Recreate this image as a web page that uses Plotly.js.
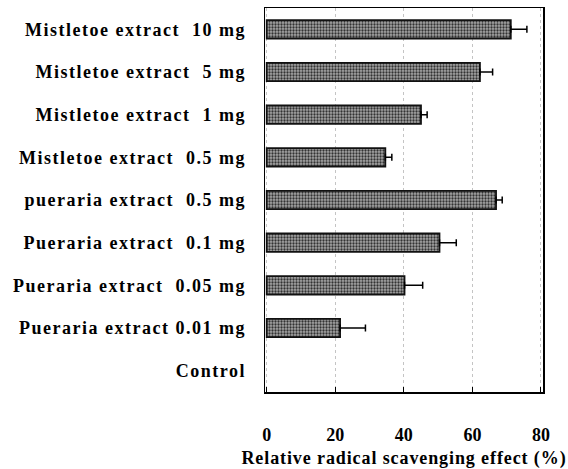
<!DOCTYPE html>
<html>
<head>
<meta charset="utf-8">
<script src="https://cdn.plot.ly/plotly-3.0.1.min.js"></script>
<style>
html,body{margin:0;padding:0;background:#fff;}
#chart{width:568px;height:469px;}
.yaxislayer-above text{letter-spacing:1.5px;}
.g-xtitle text{letter-spacing:0.9px;}
</style>
</head>
<body>
<div id="chart"></div>
<script>
const categories = [
  "Mistletoe extract\u00a0 10 mg",
  "Mistletoe extract\u00a0 5 mg",
  "Mistletoe extract\u00a0 1 mg",
  "Mistletoe extract\u00a0 0.5 mg",
  "pueraria extract\u00a0 0.5 mg",
  "Pueraria extract\u00a0 0.1 mg",
  "Pueraria extract\u00a0 0.05 mg",
  "Pueraria extract 0.01 mg",
  "Control"
];
const values = [71.2, 62.2, 45.0, 34.6, 66.9, 50.4, 40.2, 21.4, 0];
const errorsPlus = [4.7, 3.7, 1.8, 1.9, 1.8, 4.9, 5.3, 7.4, 0];
const errorsMinus = [0, 0, 0, 0, 0, 0, 0, 0, 0];
const xTicks = [0, 20, 40, 60, 80];

const serif = "'Liberation Serif', 'Times New Roman', serif";

// a zero value (Control) shows no bar outline and no error cap in the reference
const shownValues = values.map(v => v === 0 ? null : v);

const trace = {
  type: 'bar',
  orientation: 'h',
  y: categories,
  x: shownValues,
  width: 0.43,
  marker: {
    color: '#8c8c8c',
    line: {color: '#111', width: 1.8},
    pattern: {shape: '.', fgcolor: '#333333', bgcolor: '#a6a6a6', size: 3, solidity: 0.45}
  },
  error_x: {
    type: 'data', symmetric: false,
    array: errorsPlus, arrayminus: errorsMinus,
    color: '#000', thickness: 1.5, width: 3.5
  },
  hoverinfo: 'skip'
};

const layout = {
  width: 568, height: 469,
  margin: {l: 265, r: 25, t: 8, b: 77},
  paper_bgcolor: '#fff', plot_bgcolor: '#fff',
  showlegend: false,
  font: {family: serif, color: '#000'},
  xaxis: {
    range: [-0.5, 80.6],
    tickvals: xTicks,
    ticktext: xTicks.map(String),
    ticks: 'inside', ticklen: 5, tickwidth: 1, tickcolor: '#000',
    showgrid: true, gridcolor: '#c4c4c4', griddash: 'dot', gridwidth: 1,
    zeroline: false,
    showline: true, linecolor: '#000', linewidth: 1.5, mirror: true,
    ticklabelstandoff: 26,
    tickfont: {family: serif, size: 18, weight: 'bold', color: '#000'},
    title: {text: 'Relative radical scavenging effect (%)', standoff: 12,
            font: {family: serif, size: 18, weight: 'bold', color: '#000'}}
  },
  yaxis: {
    type: 'category',
    categoryorder: 'array', categoryarray: categories,
    range: [8.5, -0.5],
    ticks: '', showgrid: false, zeroline: false,
    showline: true, linecolor: '#000', linewidth: 1.5, mirror: true,
    ticklabelstandoff: 14,
    tickfont: {family: serif, size: 18, weight: 'bold', color: '#000'}
  }
};

Plotly.newPlot('chart', [trace], layout, {staticPlot: true, displayModeBar: false});
</script>
</body>
</html>
